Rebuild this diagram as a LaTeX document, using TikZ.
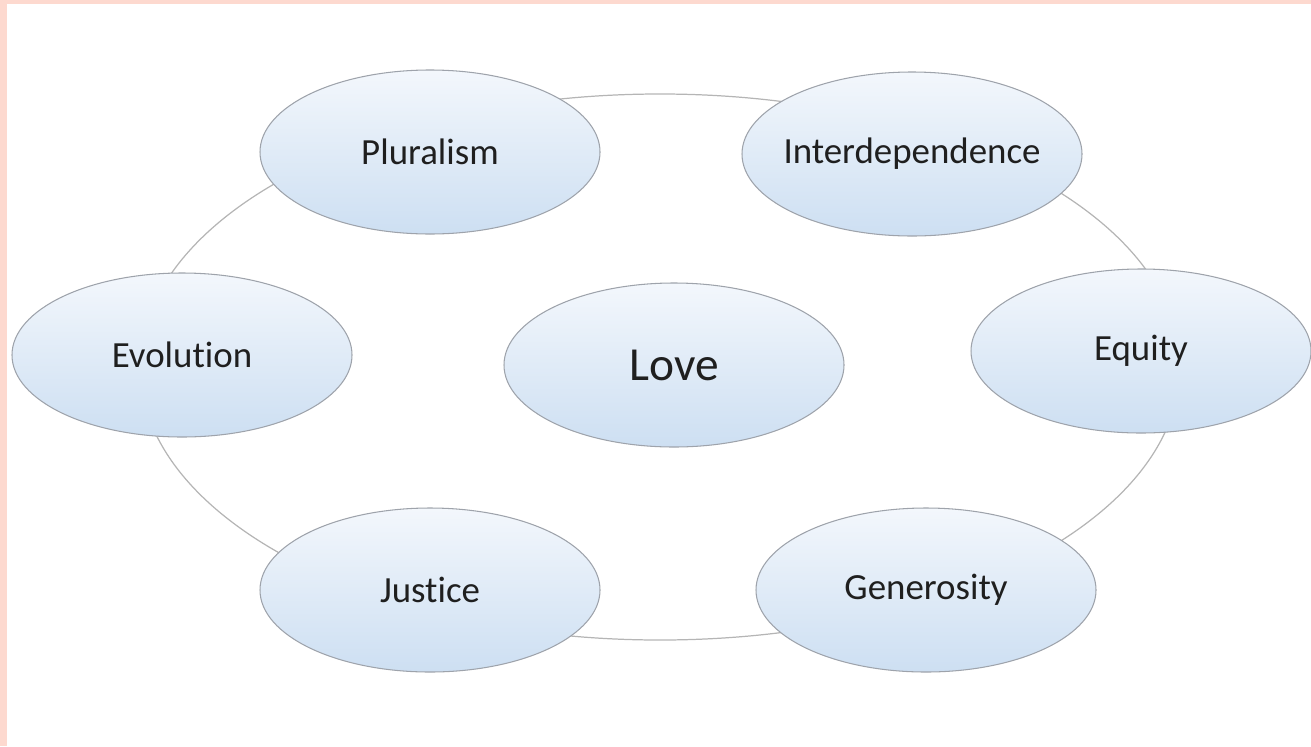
\documentclass[tikz,border=0pt]{standalone}
\usepackage{fontspec}
\setmainfont{Carlito}[Ligatures=NoCommon]
\usetikzlibrary{shapes.geometric}
\definecolor{pinkedge}{HTML}{FDD9CF}
\definecolor{bubbletop}{HTML}{F3F7FC}
\definecolor{bubblebot}{HTML}{CDDFF2}
\definecolor{bubbleline}{HTML}{9EA3AB}
\definecolor{ringline}{HTML}{B5B5B5}
\begin{document}
\begin{tikzpicture}[
    bubble/.style={ellipse, draw=bubbleline, line width=0.6pt, top color=bubbletop, bottom color=bubblebot,
        minimum width=6.8cm, minimum height=3.28cm, inner sep=-0.5cm, font=\fontsize{21}{24}\selectfont, text=black!88},
    ring/.style={draw=ringline, line width=0.7pt}
]
            \useasboundingbox (0,0) rectangle (26.22,-14.92);
            \fill[pinkedge] (0,0) rectangle (26.22,-0.08);
            \fill[pinkedge] (0,0) rectangle (0.14,-14.92);

            \coordinate (ringc) at (13.2,-7.34);
            \draw[ring] (ringc) ellipse (10.4cm and 5.46cm);

            \node[bubble] (pluralism) at (8.6,-3.04) {Pluralism};
            \node[bubble] (interdep) at (18.24,-3.08) {Interdependence};
            \node[bubble] (evolution) at (3.64,-7.1) {Evolution};
            \node[bubble, font=\fontsize{27}{30}\selectfont] (love) at (13.48,-7.3) {Love};
            \node[bubble] (equity) at (22.82,-7.02) {Equity};
            \node[bubble] (justice) at (8.6,-11.8) {Justice};
            \node[bubble] (generosity) at (18.52,-11.8) {Generosity};
        \end{tikzpicture}
\end{document}
